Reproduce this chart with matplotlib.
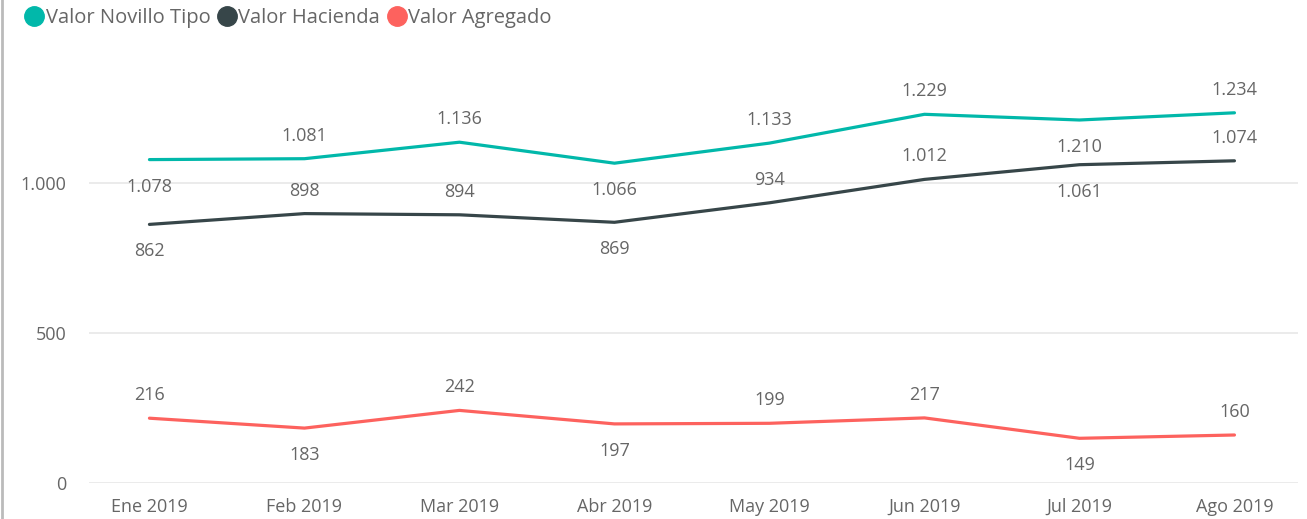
import matplotlib
matplotlib.use("Agg")
from matplotlib import pyplot as plt
from matplotlib.lines import Line2D

plt.rcParams['font.family'] = ['Open Sans', 'DejaVu Sans']

months = ['Ene 2019', 'Feb 2019', 'Mar 2019', 'Abr 2019', 'May 2019', 'Jun 2019', 'Jul 2019', 'Ago 2019']
novillo = [1078, 1081, 1136, 1066, 1133, 1229, 1210, 1234]
hacienda = [862, 898, 894, 869, 934, 1012, 1061, 1074]
agregado = [216, 183, 242, 197, 199, 217, 149, 160]

# label placement: 1 = above, -1 = below
novillo_pos = [-1, 1, 1, -1, 1, 1, -1, 1]
hacienda_pos = [-1, 1, 1, -1, 1, 1, -1, 1]
agregado_pos = [1, -1, 1, -1, 1, 1, -1, 1]

series = [
    ('Valor Novillo Tipo', novillo, novillo_pos, '#01B8AA'),
    ('Valor Hacienda', hacienda, hacienda_pos, '#374649'),
    ('Valor Agregado', agregado, agregado_pos, '#FD625E'),
]

txt_color = '#666666'


def fmt(v):
    return '{:,}'.format(v).replace(',', '.')


fig = plt.figure(figsize=(13.07, 5.19), dpi=100)
ax = fig.add_axes([89 / 1307, 36 / 519, (1298 - 89) / 1307, (483 - 60) / 519])

x = list(range(len(months)))
handles = []
for name, vals, pos, color in series:
    ax.plot(x, vals, color=color, lw=2.3, solid_capstyle='round', zorder=3)
    for xi, v, p in zip(x, vals, pos):
        ax.annotate(fmt(v), (xi, v), xytext=(0, 18 * p - 1.5), textcoords='offset points',
                    ha='center', va='center', fontsize=13, color=txt_color)
    handles.append(Line2D([], [], marker='o', ls='none', markersize=14,
                          markerfacecolor=color, markeredgecolor=color, label=name))

ax.set_xlim(-0.39, 7.41)
ax.set_ylim(0, 1410)
ax.set_yticks([0, 500, 1000])
ax.set_yticklabels([fmt(t) for t in [0, 500, 1000]])
ax.set_xticks(x)
ax.set_xticklabels(months)
ax.tick_params(length=0, labelsize=13, colors=txt_color)
ax.tick_params(axis='y', pad=16)
ax.tick_params(axis='x', pad=11)
ax.grid(axis='y', color='#e8e8e8', lw=1.2)
ax.set_axisbelow(True)
for s in ax.spines.values():
    s.set_visible(False)

fig.legend(handles=handles, loc='upper left', bbox_to_anchor=(0.004, 1.02), ncol=3,
           frameon=False, handletextpad=0.0, columnspacing=0.3, handlelength=1.1,
           fontsize=14.5, labelcolor=txt_color)

fig.add_artist(Line2D([0.0015, 0.0015], [0, 1], transform=fig.transFigure, color='#bbbbbb', lw=2))

fig.savefig('out.png', dpi=100)
